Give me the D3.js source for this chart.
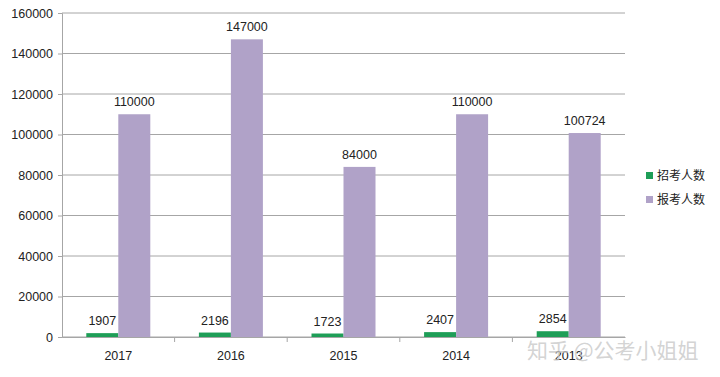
<!DOCTYPE html>
<html>
<head>
<meta charset="utf-8">
<script src="https://cdn.jsdelivr.net/npm/d3@7"></script>
<style>
  body { margin: 0; background: #fff; }
  text { font-family: "Liberation Sans", "DejaVu Sans", sans-serif; }
</style>
</head>
<body>
<div id="chart"></div>
<script>
// data
var years = ["2017", "2016", "2015", "2014", "2013"];
var seriesNames = ["招考人数", "报考人数"];
var zhaokao = [1907, 2196, 1723, 2407, 2854];
var baokao = [110000, 147000, 84000, 110000, 100724];
var yTicks = [0, 20000, 40000, 60000, 80000, 100000, 120000, 140000, 160000];
var colors = ["#1e9e57", "#b0a2c8"];

var W = 720, H = 377;
var margin = {top: 13, right: 95, bottom: 40, left: 62};
var width = W - margin.left - margin.right,
    height = H - margin.top - margin.bottom;

var svg = d3.select("#chart").append("svg")
    .attr("width", W)
    .attr("height", H);
var g = svg.append("g")
    .attr("transform", "translate(" + margin.left + "," + margin.top + ")");

//Scales
var x = d3.scaleBand().domain(years).range([0, width]);
var y = d3.scaleLinear().domain([0, 160000]).range([height, 0]);
var barW = 32;
var xs = d3.scaleBand().domain([0, 1]).range([-barW, barW]);

//Gridlines
g.selectAll(".grid").data(yTicks).enter().append("line")
    .attr("x1", 0).attr("x2", width)
    .attr("y1", function(d){ return y(d); })
    .attr("y2", function(d){ return y(d); })
    .attr("stroke", "#a6a6a6").attr("stroke-width", 1);

//Y axis
var yAxis = g.append("g")
    .call(d3.axisLeft(y).tickValues(yTicks).tickSize(4).tickPadding(5).tickFormat(d3.format("d")));
yAxis.select(".domain").attr("stroke", "#a6a6a6");
yAxis.selectAll(".tick line").attr("stroke", "#a6a6a6");
yAxis.selectAll("text").attr("font-size", 12.5).attr("fill", "#222");

//X axis
var xAxis = g.append("g")
    .attr("transform", "translate(0," + height + ")")
    .call(d3.axisBottom(x).tickSize(0).tickPadding(14));
xAxis.select(".domain").attr("stroke", "#a6a6a6");
xAxis.selectAll("text").attr("font-size", 12.5).attr("fill", "#222");
// category boundary ticks
g.selectAll(".bt").data(years.slice(1)).enter().append("line")
    .attr("x1", function(d){ return x(d); })
    .attr("x2", function(d){ return x(d); })
    .attr("y1", height).attr("y2", height + 5)
    .attr("stroke", "#a6a6a6");

//Bars
var series = [zhaokao, baokao];
series.forEach(function(vals, si){
  var grp = g.append("g");
  grp.selectAll("rect").data(vals).enter().append("rect")
      .attr("x", function(d, i){ return x(years[i]) + x.bandwidth()/2 + xs(si); })
      .attr("y", function(d){ return y(d); })
      .attr("width", barW)
      .attr("height", function(d){ return height - y(d); })
      .attr("fill", colors[si]);
  grp.selectAll("text").data(vals).enter().append("text")
      .attr("x", function(d, i){ return x(years[i]) + x.bandwidth()/2 + xs(si) + barW/2; })
      .attr("y", function(d){ return y(d) - 8; })
      .attr("text-anchor", "middle")
      .attr("font-size", 12.5)
      .attr("fill", "#222")
      .text(function(d){ return d; });
});

//Legend
var leg = svg.append("g").attr("transform", "translate(646,170)");
seriesNames.forEach(function(name, i){
  var row = leg.append("g").attr("transform", "translate(0," + i*24 + ")");
  row.append("rect").attr("x", 0).attr("y", 2).attr("width", 7).attr("height", 7).attr("fill", colors[i]);
  row.append("text").attr("x", 11).attr("y", 10).attr("font-size", 12)
    .attr("fill", "#222").style("font-family", "'Noto Sans CJK SC', sans-serif").text(name);
});

//Watermark
svg.append("text")
  .attr("x", 527).attr("y", 358)
  .attr("font-size", 21)
  .attr("fill", "#c8c8c8").attr("fill-opacity", 0.8)
  .style("font-family", "'Noto Sans CJK SC', sans-serif")
  .text("知乎 @公考小姐姐");
</script>
</body>
</html>
